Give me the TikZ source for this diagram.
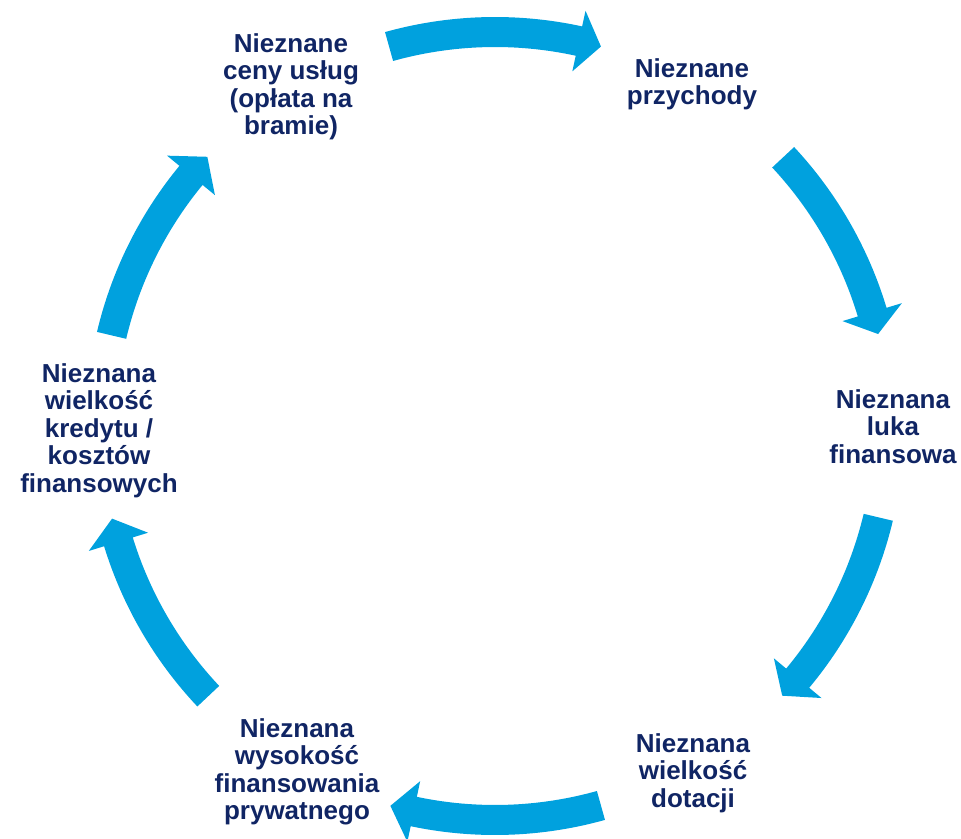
\documentclass[tikz,border=0pt]{standalone}
\usepackage{fontspec}
\setmainfont{Liberation Sans}
\definecolor{navytext}{RGB}{16,37,100}
\definecolor{cycleblue}{RGB}{0,161,222}
\newcommand\cycarrow[3]{% tail angle, junction angle, tip angle
  \fill[cycleblue] (#1:409pt) arc[start angle=#1, end angle=#2, radius=409pt]
    -- (#2:425pt) -- (#3:394pt) -- (#2:363pt) -- (#2:379pt)
    arc[start angle=#2, end angle=#1, radius=379pt] -- cycle;}
\begin{document}
\begin{tikzpicture}[x=1pt,y=1pt,
  lbl/.style={anchor=north, inner sep=0pt, align=center, text=navytext,
    font=\fontsize{26pt}{27.5pt}\selectfont\bfseries}]
\useasboundingbox (0,0) rectangle (961,838);
\clip (0,0) rectangle (961,838);
\begin{scope}[shift={(495,412)}]
  \cycarrow{105.6}{77.7}{74.4}
  \cycarrow{43.0}{16.8}{13.5}
  \cycarrow{-13.4}{-39.8}{-43.2}
  \cycarrow{-74.4}{-101.9}{-105.4}
  \cycarrow{223.3}{197.1}{193.6}
  \cycarrow{166.7}{140.5}{136.9}
\end{scope}
\node[lbl] (ceny) at (291,805) {Nieznane\\ceny usług\\(opłata na\\bramie)};
\node[lbl] (przych) at (692,780) {Nieznane\\przychody};
\node[lbl] (luka) at (893,449) {Nieznana\\luka\\finansowa};
\node[lbl] (dotacji) at (693,105) {Nieznana\\wielkość\\dotacji};
\node[lbl] (prywat) at (297,120) {Nieznana\\wysokość\\finansowania\\prywatnego};
\node[lbl] (kredyt) at (99,475) {Nieznana\\wielkość\\kredytu /\\kosztów\\finansowych};
\end{tikzpicture}
\end{document}
